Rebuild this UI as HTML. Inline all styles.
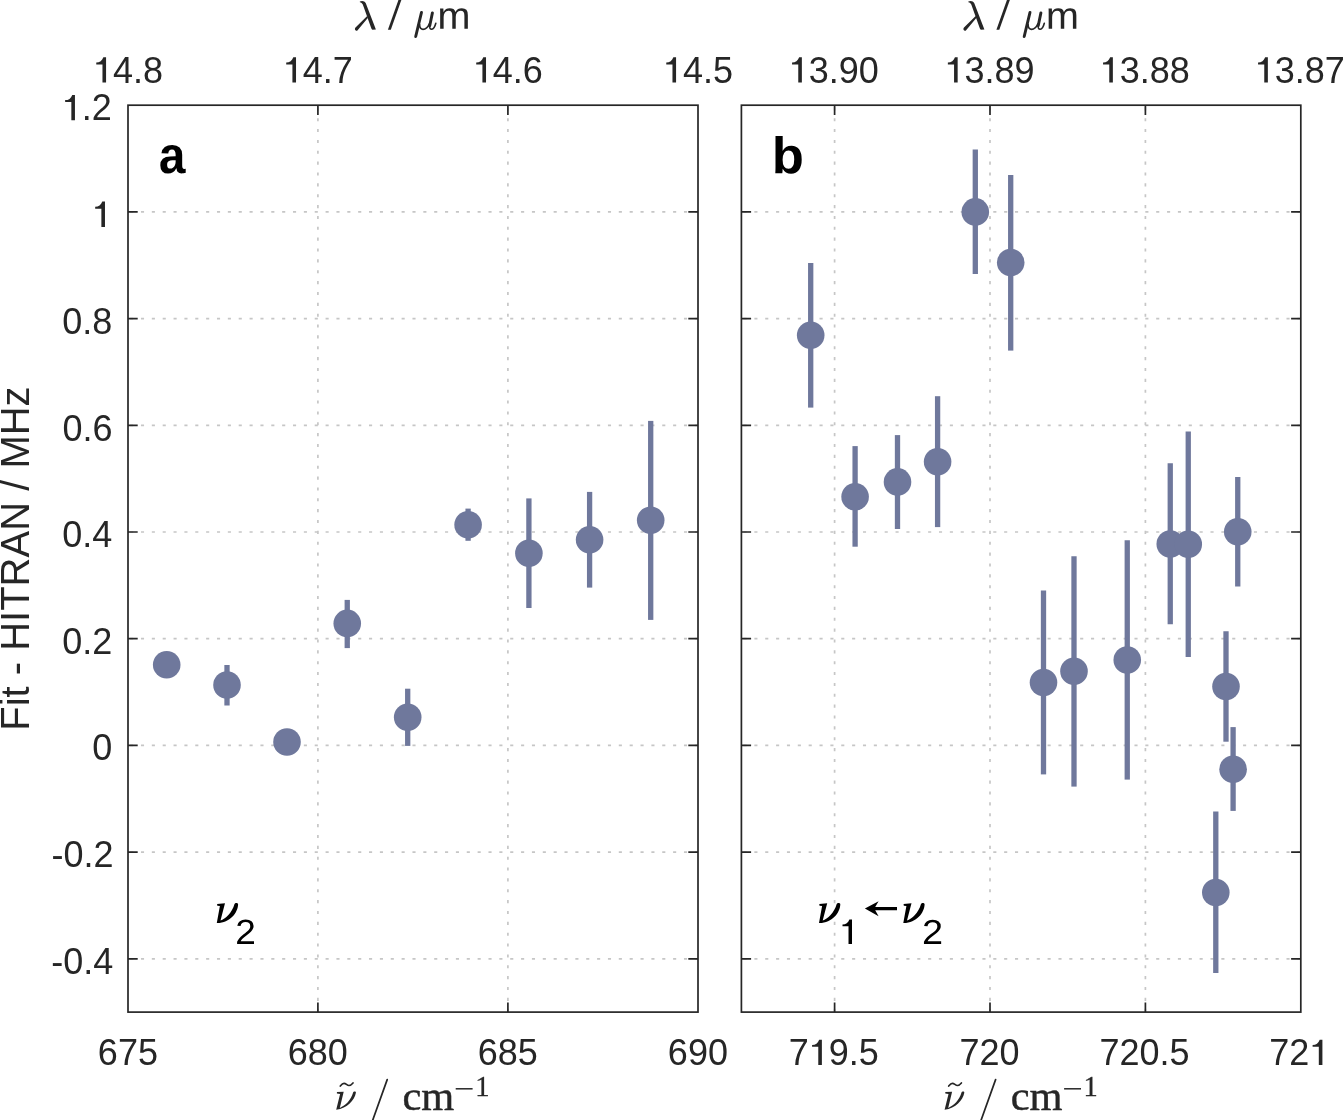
<!DOCTYPE html>
<html><head><meta charset="utf-8"><title>Fit - HITRAN</title>
<style>
html,body{margin:0;padding:0;background:#fff;}
body{width:1344px;height:1120px;overflow:hidden;}
svg{display:block;will-change:transform;}
text{font-family:"Liberation Sans",sans-serif;}
.t{font-size:36px;fill:#262626;}
.l{font-size:40px;fill:#262626;}
.s{font-family:"Liberation Serif",serif;}
</style></head><body>
<svg width="1344" height="1120" viewBox="0 0 1344 1120">
<rect width="1344" height="1120" fill="#fff"/>
<defs>
<path id="nu" d="M0.3,1.4 L8.2,0.5 L3.7,17.9 C8.5,16.3 15.3,10 17.7,1.3 C18.2,-0.3 21.5,-0.2 21.3,1.7 C21,10 13,20.5 0,20.2 L3.1,3.2 L0.5,3 Z"/>
<path id="one" d="M13.2,0 H9.6 V-18.2 H3.4 V-20.1 C6.9,-20.15 9.2,-21.6 10.5,-25.3 H13.2 Z"/>
<path id="two" d="M103 0V127Q154 244 227.5 333.5Q301 423 382 495.5Q463 568 542.5 630Q622 692 686 754Q750 816 789.5 884Q829 952 829 1038Q829 1154 761 1218Q693 1282 572 1282Q457 1282 382.5 1219.5Q308 1157 295 1044L111 1061Q131 1230 254.5 1330Q378 1430 572 1430Q785 1430 899.5 1329.5Q1014 1229 1014 1044Q1014 962 976.5 881Q939 800 865 719Q791 638 582 468Q467 374 399 298.5Q331 223 301 153H1036V0Z"/>
<path id="em" d="M768 0V686Q768 843 725 903Q682 963 570 963Q455 963 388 875Q321 787 321 627V0H142V851Q142 1040 136 1082H306Q307 1077 308 1055Q309 1033 310.5 1004.5Q312 976 314 897H317Q375 1012 450 1057Q525 1102 633 1102Q756 1102 827.5 1053Q899 1004 927 897H930Q986 1006 1065.5 1054Q1145 1102 1258 1102Q1422 1102 1496.5 1013Q1571 924 1571 721V0H1393V686Q1393 843 1350 903Q1307 963 1195 963Q1077 963 1011.5 875.5Q946 788 946 627V0Z"/>
<path id="nus" d="M0.9,1.0 L7.7,0.8 L3.8,16.9 C9.5,14.8 15,9 17.1,1.6 C17.5,0.2 20.2,0.2 19.9,1.8 C18.3,9.5 11.5,17.2 0.2,18.8 L4.1,2.9 L0.9,2.6 Z"/>
<g id="lam"><path d="M359.8,1.6 C361.5,0.6 364.5,0.6 365.8,3.3 L375.9,29.6 L372.4,29.7 C371.6,29.2 371.3,28.4 371.0,27.6 L362.8,4.6 C362.2,3.2 361.2,2.4 359.9,2.2 Z"/><path d="M367.2,16 L355.5,27.5 C354.6,28.5 354.8,30.0 355.8,30.6 C356.5,31.0 357.2,30.8 357.6,30.3 L368,17.8 Z"/></g>
<g id="mu" fill="none" stroke-linecap="round"><path d="M421.5,12.4 L415.7,36.5" stroke-width="2.9"/><path d="M419.6,24.5 C419.3,28 421.5,29.3 423,29.3 C425.5,29.3 428,27 429.3,24" stroke-width="1.7"/><path d="M432.4,12.9 L429.8,25.5" stroke-width="2.9"/><path d="M429.8,25.5 C429.2,28.3 430.5,29.3 431.8,29.2 C433.6,29 435,26.3 435.8,23.2" stroke-width="1.6"/></g>
</defs>
<!-- panel a -->
<g stroke="#c6c6c6" stroke-width="1.7" stroke-dasharray="3.1 7.76" fill="none"><path d="M130.1,211.9H698.0"/><path d="M130.1,318.6H698.0"/><path d="M130.1,425.3H698.0"/><path d="M130.1,532.0H698.0"/><path d="M130.1,638.7H698.0"/><path d="M130.1,745.4H698.0"/><path d="M130.1,852.1H698.0"/><path d="M130.1,958.8H698.0"/><path d="M317.9,107.3V1012.1"/><path d="M507.9,107.3V1012.1"/></g>
<g fill="#6f789c" stroke="none"><circle cx="166.70" cy="664.70" r="13.80"/><rect x="224.35" y="665.00" width="5.30" height="40.50"/><circle cx="227.00" cy="685.00" r="13.80"/><circle cx="287.00" cy="742.00" r="13.80"/><rect x="344.60" y="599.90" width="5.30" height="48.20"/><circle cx="347.25" cy="623.40" r="13.80"/><rect x="405.05" y="688.70" width="5.30" height="57.20"/><circle cx="407.70" cy="717.30" r="13.80"/><rect x="465.45" y="508.60" width="5.30" height="32.20"/><circle cx="468.10" cy="524.70" r="13.80"/><rect x="526.25" y="498.40" width="5.30" height="109.60"/><circle cx="528.90" cy="553.30" r="13.80"/><rect x="586.95" y="491.90" width="5.30" height="95.70"/><circle cx="589.60" cy="539.80" r="13.80"/><rect x="648.05" y="420.90" width="5.30" height="199.00"/><circle cx="650.70" cy="520.20" r="13.80"/></g>
<g stroke="#262626" stroke-width="1.70" fill="none"><rect x="128.0" y="105.2" width="570.0" height="906.9"/><path d="M128.0,211.9h9.7M698.0,211.9h-9.7M128.0,318.6h9.7M698.0,318.6h-9.7M128.0,425.3h9.7M698.0,425.3h-9.7M128.0,532.0h9.7M698.0,532.0h-9.7M128.0,638.7h9.7M698.0,638.7h-9.7M128.0,745.4h9.7M698.0,745.4h-9.7M128.0,852.1h9.7M698.0,852.1h-9.7M128.0,958.8h9.7M698.0,958.8h-9.7M317.9,1012.1v-9.7M317.9,105.2v9.7M507.9,1012.1v-9.7M507.9,105.2v9.7"/></g>
<g class="t"><text x="97.87" y="1065.0">675</text><use href="#one" x="92.87" y="82.6" fill="#262626"/><text x="112.89" y="82.6">4.8</text><text x="287.82" y="1065.0">680</text><use href="#one" x="282.82" y="82.6" fill="#262626"/><text x="302.84" y="82.6">4.7</text><text x="477.82" y="1065.0">685</text><use href="#one" x="472.82" y="82.6" fill="#262626"/><text x="492.84" y="82.6">4.6</text><text x="667.87" y="1065.0">690</text><use href="#one" x="662.87" y="82.6" fill="#262626"/><text x="682.89" y="82.6">4.5</text></g>
<g class="t"><use href="#one" x="61.75" y="120.2" fill="#262626"/><text x="81.77" y="120.2">.2</text><use href="#one" x="91.78" y="226.9" fill="#262626"/><text x="62.25" y="333.6">0.8</text><text x="62.45" y="441.0">0.6</text><text x="62.25" y="547.0">0.4</text><text x="62.25" y="653.7">0.2</text><text x="92.28" y="760.4">0</text><text x="51.56" y="867.4">-0.2</text><text x="51.16" y="974.0">-0.4</text></g>
<!-- panel b -->
<g stroke="#c6c6c6" stroke-width="1.7" stroke-dasharray="3.1 7.76" fill="none"><path d="M743.5,211.9H1300.8"/><path d="M743.5,318.6H1300.8"/><path d="M743.5,425.3H1300.8"/><path d="M743.5,532.0H1300.8"/><path d="M743.5,638.7H1300.8"/><path d="M743.5,745.4H1300.8"/><path d="M743.5,852.1H1300.8"/><path d="M743.5,958.8H1300.8"/><path d="M834.6,107.3V1012.1"/><path d="M990.0,107.3V1012.1"/><path d="M1145.4,107.3V1012.1"/></g>
<g fill="#6f789c" stroke="none"><rect x="808.05" y="263.00" width="5.30" height="144.60"/><circle cx="810.70" cy="335.30" r="13.80"/><rect x="852.45" y="446.10" width="5.30" height="100.60"/><circle cx="855.10" cy="496.80" r="13.80"/><rect x="894.85" y="435.10" width="5.30" height="93.90"/><circle cx="897.50" cy="481.90" r="13.80"/><rect x="934.95" y="396.20" width="5.30" height="130.90"/><circle cx="937.60" cy="461.80" r="13.80"/><rect x="972.65" y="149.50" width="5.30" height="124.50"/><circle cx="975.30" cy="211.90" r="13.80"/><rect x="1008.05" y="175.00" width="5.30" height="175.60"/><circle cx="1010.70" cy="262.60" r="13.80"/><rect x="1040.85" y="590.50" width="5.30" height="183.90"/><circle cx="1043.50" cy="682.50" r="13.80"/><rect x="1071.35" y="556.25" width="5.30" height="230.35"/><circle cx="1074.00" cy="671.25" r="13.80"/><rect x="1124.60" y="540.25" width="5.30" height="239.35"/><circle cx="1127.25" cy="660.00" r="13.80"/><rect x="1167.60" y="463.25" width="5.30" height="161.00"/><circle cx="1170.25" cy="544.00" r="13.80"/><rect x="1185.60" y="431.50" width="5.30" height="225.50"/><circle cx="1188.25" cy="544.25" r="13.80"/><rect x="1235.10" y="477.00" width="5.30" height="109.50"/><circle cx="1237.75" cy="531.75" r="13.80"/><rect x="1223.35" y="631.25" width="5.30" height="110.45"/><circle cx="1226.00" cy="686.50" r="13.80"/><rect x="1230.45" y="727.10" width="5.30" height="83.80"/><circle cx="1233.10" cy="769.30" r="13.80"/><rect x="1213.15" y="811.50" width="5.30" height="161.50"/><circle cx="1215.80" cy="892.50" r="13.80"/></g>
<g stroke="#262626" stroke-width="1.70" fill="none"><rect x="741.4" y="105.2" width="559.4" height="906.9"/><path d="M741.4,211.9h9.7M1300.8,211.9h-9.7M741.4,318.6h9.7M1300.8,318.6h-9.7M741.4,425.3h9.7M1300.8,425.3h-9.7M741.4,532.0h9.7M1300.8,532.0h-9.7M741.4,638.7h9.7M1300.8,638.7h-9.7M741.4,745.4h9.7M1300.8,745.4h-9.7M741.4,852.1h9.7M1300.8,852.1h-9.7M741.4,958.8h9.7M1300.8,958.8h-9.7M834.6,1012.1v-9.7M834.6,105.2v9.7M990.0,1012.1v-9.7M990.0,105.2v9.7M1145.4,1012.1v-9.7M1145.4,105.2v9.7"/></g>
<g class="t"><text x="788.66" y="1065.0">7</text><use href="#one" x="808.68" y="1065.0" fill="#262626"/><text x="828.70" y="1065.0">9.5</text><use href="#one" x="788.66" y="82.6" fill="#262626"/><text x="808.68" y="82.6">3.90</text><text x="959.47" y="1065.0">720</text><use href="#one" x="944.46" y="82.6" fill="#262626"/><text x="964.48" y="82.6">3.89</text><text x="1099.46" y="1065.0">720.5</text><use href="#one" x="1099.66" y="82.6" fill="#262626"/><text x="1119.68" y="82.6">3.88</text><text x="1269.17" y="1065.0">72</text><use href="#one" x="1309.21" y="1065.0" fill="#262626"/><use href="#one" x="1254.66" y="82.6" fill="#262626"/><text x="1274.68" y="82.6">3.87</text></g>
<text class="l" text-anchor="middle" transform="translate(29.4,558.6) rotate(-90)">Fit - HITRAN / MHz</text>
<path transform="matrix(0.02326,0,0,-0.025535,158.904,173.089)" fill="#000" d="M393 -20Q236 -20 148 65.5Q60 151 60 306Q60 474 169.5 562Q279 650 487 652L720 656V711Q720 817 683 868.5Q646 920 562 920Q484 920 447.5 884.5Q411 849 402 767L109 781Q136 939 253.5 1020.5Q371 1102 574 1102Q779 1102 890 1001Q1001 900 1001 714V320Q1001 229 1021.5 194.5Q1042 160 1090 160Q1122 160 1152 166V14Q1127 8 1107 3Q1087 -2 1067 -5Q1047 -8 1024.5 -10Q1002 -12 972 -12Q866 -12 815.5 40Q765 92 755 193H749Q631 -20 393 -20ZM720 501 576 499Q478 495 437 477.5Q396 460 374.5 424Q353 388 353 328Q353 251 388.5 213.5Q424 176 483 176Q549 176 603.5 212Q658 248 689 311.5Q720 375 720 446Z"/>
<path transform="matrix(0.025581,0,0,-0.024967,771.847,173.151)" fill="#000" d="M1167 545Q1167 277 1059.5 128.5Q952 -20 752 -20Q637 -20 553 30Q469 80 424 174H422Q422 139 417.5 78Q413 17 408 0H135Q143 93 143 247V1484H424V1070L420 894H424Q519 1102 770 1102Q962 1102 1064.5 956.5Q1167 811 1167 545ZM874 545Q874 729 820 818Q766 907 653 907Q539 907 479.5 811.5Q420 716 420 536Q420 364 478.5 268Q537 172 651 172Q874 172 874 545Z"/>
<use href="#lam" x="0.0" fill="#262626"/><path d="M387.9,29.7 h2.9 L401.7,-1 h-2.9 Z" fill="#262626"/><use href="#mu" x="0.0" stroke="#262626"/><g transform="translate(0.0,0)"><use href="#em" transform="matrix(0.019373,0,0,-0.018648,437.415,28.750)" fill="#262626"/></g>
<use href="#lam" x="608.5" fill="#262626"/><path d="M996.4,29.7 h2.9 L1010.2,-1 h-2.9 Z" fill="#262626"/><use href="#mu" x="608.5" stroke="#262626"/><g transform="translate(608.5,0)"><use href="#em" transform="matrix(0.019373,0,0,-0.018648,437.415,28.750)" fill="#262626"/></g>
<use href="#nus" transform="translate(336.0,1091)" fill="#262626"/><path transform="translate(336.0,0)" d="M4.3,1086 C5.5,1084.5 6.5,1083.3 8,1083.3 C10,1083.3 11,1085.5 13,1085.5 C14.8,1085.5 16,1084.2 17,1083" fill="none" stroke="#262626" stroke-width="1.7" stroke-linecap="round"/><path d="M387.2,1079.6 L372.4,1121" fill="none" stroke="#262626" stroke-width="1.7" stroke-linecap="round"/><text class="l s" stroke="#262626" stroke-width="0.45" transform="translate(402.4,1109.6) scale(1.06,1)">cm</text><path d="M455.7,1088.8 h16.9" fill="none" stroke="#262626" stroke-width="1.5"/><text class="s" font-size="28.5" fill="#262626" stroke="#262626" stroke-width="0.3" x="475.2" y="1095.7">1</text>
<use href="#nus" transform="translate(944.4,1091)" fill="#262626"/><path transform="translate(944.4,0)" d="M4.3,1086 C5.5,1084.5 6.5,1083.3 8,1083.3 C10,1083.3 11,1085.5 13,1085.5 C14.8,1085.5 16,1084.2 17,1083" fill="none" stroke="#262626" stroke-width="1.7" stroke-linecap="round"/><path d="M995.6,1079.6 L980.8,1121" fill="none" stroke="#262626" stroke-width="1.7" stroke-linecap="round"/><text class="l s" stroke="#262626" stroke-width="0.45" transform="translate(1010.8,1109.6) scale(1.06,1)">cm</text><path d="M1064.1,1088.8 h16.9" fill="none" stroke="#262626" stroke-width="1.5"/><text class="s" font-size="28.5" fill="#262626" stroke="#262626" stroke-width="0.3" x="1083.6" y="1095.7">1</text>
<use href="#nu" transform="translate(216.8,902.7)" fill="#000"/><use href="#two" transform="matrix(0.018114,0,0,-0.017063,235.234,943.900)" fill="#000"/>
<use href="#nu" transform="translate(819,902.7)" fill="#000"/><use href="#one" transform="translate(839.2,944) scale(0.97)" fill="#000"/>
<path d="M864.9,908.6 L878.6,901.2 L875.2,907 H897 V910.3 H875.2 L878.6,916.3 Z" fill="#000"/>
<use href="#nu" transform="translate(903.3,902.7)" fill="#000"/><use href="#two" transform="matrix(0.018435,0,0,-0.016923,922.051,943.900)" fill="#000"/>
</svg>
</body></html>
